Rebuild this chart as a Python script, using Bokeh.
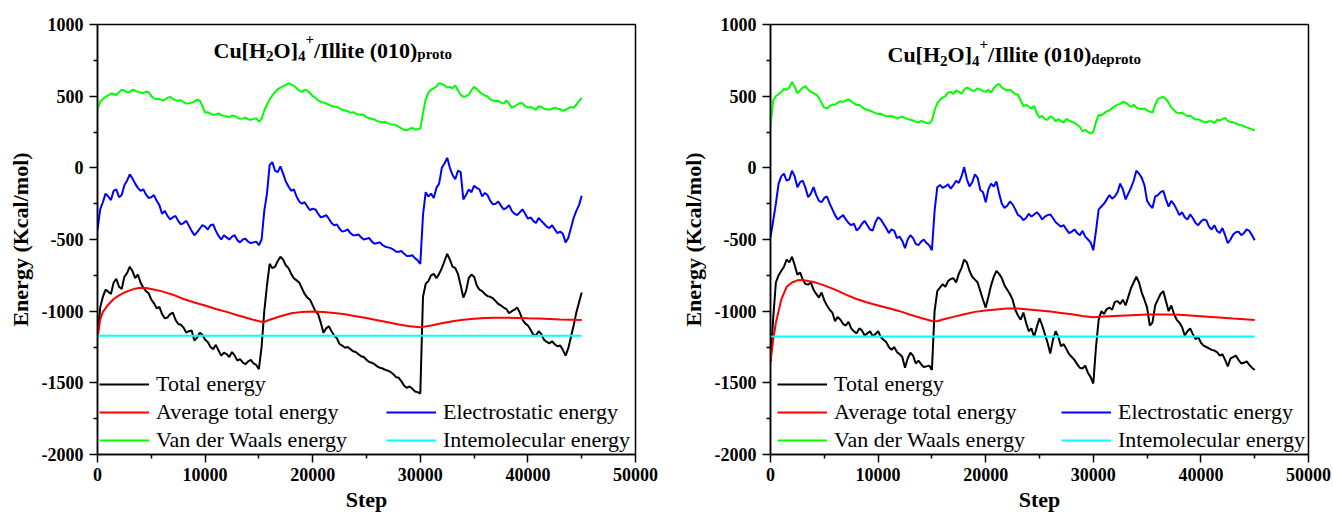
from bokeh.plotting import figure
from bokeh.models import Range1d, FixedTicker, Legend, LegendItem, Label
from bokeh.layouts import row
from bokeh.embed import file_html
from bokeh.resources import INLINE

# ---- data -------------------------------------------------------------
# main samples every 500 steps, plus the readings half-way between them
steps = list(range(0, 45001, 500))
mid_steps = list(range(250, 45000, 500))

proto_total = [
    -1187, -900, -864, -800, -830, -760, -690, -770, -800, -860,
    -920, -980, -1020, -1045, -1010, -1090, -1115, -1140, -1205, -1150,
    -1200, -1250, -1235, -1310, -1300, -1285, -1345, -1358, -1350, -1365,
    -1405, -1000, -670, -690, -620, -680, -740, -785, -840, -905,
    -960, -1020, -1150, -1105, -1170, -1230, -1255, -1265, -1285, -1315,
    -1340, -1360, -1385, -1400, -1415, -1440, -1465, -1520, -1525, -1560,
    -1575, -810, -750, -770, -700, -600, -690, -740, -905, -770,
    -760, -850, -880, -900, -930, -960, -985, -1000, -975, -1060,
    -1100, -1165, -1140, -1200, -1225, -1232, -1240, -1310, -1180, -1010,
    -870,
]
proto_total_mid = [
    -975, -850, -880, -775, -845, -735, -720, -745, -835, -875,
    -945, -970, -1050, -1020, -1060, -1095, -1150, -1135, -1185, -1165,
    -1215, -1265, -1275, -1290, -1320, -1310, -1335, -1370, -1340, -1375,
    -1250, -820, -700, -650, -640, -700, -770, -800, -880, -920,
    -1000, -1080, -1120, -1140, -1190, -1240, -1250, -1280, -1300, -1320,
    -1355, -1370, -1395, -1410, -1425, -1460, -1490, -1535, -1540, -1565,
    -900, -790, -740, -740, -650, -640, -700, -820, -860, -745,
    -820, -860, -895, -910, -950, -975, -1015, -990, -1010, -1085,
    -1130, -1170, -1160, -1215, -1210, -1245, -1270, -1260, -1100, -940,
]
proto_elec = [
    -433, -240, -200, -160, -205, -120, -45, -110, -160, -185,
    -205, -230, -320, -335, -345, -370, -385, -405, -470, -425,
    -410, -400, -440, -500, -485, -480, -505, -500, -515, -520,
    -540, -300, 20, -20, 10, -95, -160, -200, -250, -270,
    -285, -320, -340, -355, -400, -425, -440, -455, -470, -485,
    -495, -515, -525, -540, -555, -570, -585, -600, -615, -630,
    -670, -170, -180, -140, 0, 70, -50, -20, -220, -150,
    -125, -150, -175, -230, -250, -265, -280, -300, -330, -290,
    -355, -370, -350, -390, -420, -430, -445, -520, -420, -300,
    -195,
]
proto_elec_mid = [
    -290, -180, -225, -150, -190, -90, -75, -140, -150, -210,
    -190, -260, -300, -360, -335, -395, -370, -440, -450, -400,
    -430, -395, -475, -470, -500, -470, -520, -495, -525, -515,
    -500, -180, 40, -30, -40, -130, -150, -235, -240, -295,
    -290, -345, -330, -385, -395, -445, -430, -470, -465, -500,
    -490, -530, -520, -550, -560, -585, -580, -615, -610, -645,
    -330, -200, -210, -110, 30, 0, -80, -30, -190, -170,
    -140, -200, -190, -255, -235, -290, -260, -320, -310, -320,
    -345, -385, -370, -410, -400, -455, -460, -490, -350, -260,
]
proto_vdw = [
    407, 480, 505, 515, 528, 540, 530, 538, 525, 532,
    500, 478, 470, 488, 480, 468, 458, 450, 462, 470,
    385, 378, 372, 368, 360, 365, 350, 345, 338, 342,
    322, 400, 478, 528, 560, 578, 582, 555, 530, 538,
    500, 470, 455, 440, 428, 415, 400, 385, 378, 372,
    352, 340, 325, 318, 310, 302, 285, 265, 272, 268,
    275, 480, 545, 568, 585, 560, 555, 540, 495, 510,
    565, 530, 505, 478, 465, 455, 470, 420, 440, 450,
    420, 415, 430, 412, 405, 420, 410, 405, 425, 440,
    488,
]
proto_vdw_mid = [
    462, 495, 518, 508, 545, 525, 545, 530, 520, 528,
    485, 482, 475, 495, 472, 472, 448, 455, 475, 430,
    388, 370, 380, 362, 352, 362, 342, 350, 335, 345,
    340, 440, 505, 548, 570, 590, 572, 540, 545, 522,
    490, 462, 450, 432, 425, 405, 395, 388, 370, 368,
    348, 338, 322, 320, 305, 298, 275, 262, 278, 270,
    380, 525, 555, 590, 575, 565, 575, 510, 500, 540,
    550, 515, 498, 470, 468, 448, 448, 428, 452, 430,
    425, 405, 425, 408, 412, 412, 398, 415, 418, 465,
]
avg_steps = [
    0, 250, 500, 1000, 1500, 2000, 2500, 3000, 3500, 4000, 4500, 5000,
    6000, 7000, 8000, 9000, 10000, 11000, 12000, 13000, 14000, 15000,
    15500, 16000, 17000, 18000, 19000, 20000, 21000, 22000, 23000, 24000,
    25000, 26000, 27000, 28000, 29000, 30000, 31000, 32000, 33000, 34000,
    35000, 36000, 37000, 38000, 39000, 40000, 41000, 42000, 43000, 44000,
    45000,
]
proto_avg = [
    -1187, -1060, -1005, -955, -915, -890, -870, -855, -843, -837, -838, -845,
    -862, -885, -915, -940, -960, -985, -1005, -1028, -1050, -1070,
    -1075, -1060, -1035, -1015, -1005, -1002, -1005, -1012, -1022, -1035,
    -1048, -1063, -1078, -1093, -1105, -1113, -1100, -1085, -1070, -1060,
    -1053, -1048, -1046, -1046, -1047, -1050, -1052, -1055, -1058, -1060,
    -1062,
]
proto_inter = [-1171, -1171]

deproto_total = [
    -1354, -800, -720, -640, -620, -745, -780, -815, -850, -905,
    -925, -990, -1070, -1060, -1100, -1120, -1155, -1135, -1155, -1175,
    -1140, -1200, -1250, -1250, -1300, -1395, -1290, -1365, -1370, -1385,
    -1410, -860, -812, -790, -770, -740, -640, -720, -780, -860,
    -975, -820, -720, -770, -850, -920, -1030, -1010, -1140, -1180,
    -1050, -1160, -1295, -1140, -1245, -1265, -1320, -1370, -1400, -1430,
    -1505, -1060, -1020, -975, -935, -950, -960, -840, -760, -870,
    -975, -1080, -920, -860, -1000, -1020, -1080, -1170, -1120, -1195,
    -1220, -1250, -1270, -1285, -1300, -1385, -1320, -1340, -1360, -1375,
    -1410,
]
deproto_total_mid = [
    -1050, -750, -690, -660, -680, -730, -810, -800, -880, -870,
    -960, -1010, -1040, -1090, -1075, -1140, -1120, -1170, -1140, -1160,
    -1180, -1215, -1270, -1285, -1320, -1330, -1310, -1345, -1390, -1380,
    -1000, -835, -830, -775, -800, -700, -660, -760, -800, -920,
    -900, -760, -740, -820, -880, -990, -1060, -1080, -1120, -1110,
    -1100, -1220, -1200, -1180, -1230, -1300, -1340, -1395, -1380, -1460,
    -1250, -1000, -985, -990, -930, -920, -900, -800, -800, -920,
    -1100, -960, -880, -930, -960, -1060, -1110, -1140, -1160, -1180,
    -1240, -1260, -1275, -1310, -1340, -1330, -1310, -1365, -1350, -1395,
]
deproto_elec = [
    -484, -250, -60, -90, -20, -135, -90, -205, -135, -230,
    -210, -250, -330, -345, -360, -400, -437, -390, -400, -437,
    -345, -390, -455, -440, -480, -560, -470, -530, -515, -525,
    -575, -135, -140, -115, -120, -105, 5, -130, -45, -155,
    -240, -110, -95, -250, -265, -255, -330, -365, -320, -325,
    -330, -340, -325, -380, -410, -430, -445, -455, -440, -500,
    -575, -290, -250, -190, -200, -110, -220, -140, -20, -70,
    -230, -280, -190, -160, -270, -255, -330, -345, -325, -385,
    -375, -365, -430, -440, -420, -525, -465, -445, -455, -440,
    -505,
]
deproto_elec_mid = [
    -370, -110, -40, -80, -60, -100, -140, -180, -190, -240,
    -200, -290, -360, -330, -385, -390, -420, -370, -430, -380,
    -360, -420, -430, -490, -510, -500, -490, -540, -500, -540,
    -300, -120, -130, -145, -90, -60, -80, -100, -70, -170,
    -150, -130, -180, -280, -235, -290, -340, -350, -340, -310,
    -360, -330, -350, -395, -400, -455, -430, -470, -480, -520,
    -440, -270, -220, -215, -170, -150, -180, -90, -40, -120,
    -260, -200, -170, -220, -230, -290, -310, -360, -350, -400,
    -360, -410, -400, -455, -470, -500, -450, -470, -430, -470,
]
deproto_vdw = [
    295, 500, 528, 545, 600, 520, 560, 545, 520, 488,
    420, 430, 440, 465, 470, 465, 438, 425, 405, 390,
    375, 368, 360, 355, 352, 348, 335, 322, 328, 312,
    330, 450, 490, 525, 515, 530, 545, 552, 540, 545,
    530, 525, 575, 560, 540, 530, 510, 430, 428, 432,
    350, 340, 360, 325, 325, 342, 320, 300, 255, 250,
    250, 370, 380, 400, 430, 445, 455, 425, 420, 410,
    400, 385, 480, 495, 455, 402, 380, 372, 365, 335,
    330, 318, 325, 335, 340, 328, 318, 300, 290, 275,
    260,
]
deproto_vdw_mid = [
    470, 515, 550, 560, 565, 540, 570, 530, 512, 450,
    415, 442, 455, 460, 478, 450, 440, 410, 398, 382,
    378, 360, 362, 345, 358, 340, 330, 315, 320, 310,
    400, 475, 500, 530, 540, 518, 560, 538, 555, 535,
    545, 555, 585, 548, 545, 515, 470, 440, 412, 380,
    362, 335, 348, 340, 315, 330, 315, 285, 265, 240,
    320, 365, 395, 415, 440, 460, 440, 440, 412, 415,
    392, 440, 490, 480, 420, 385, 385, 360, 350, 340,
    320, 325, 312, 330, 348, 320, 310, 298, 282, 270,
]
deproto_avg = [
    -1354, -1200, -1080, -920, -830, -800, -785, -782, -790, -797, -808, -820,
    -850, -885, -915, -940, -960, -980, -1000, -1025, -1048, -1068,
    -1070, -1058, -1040, -1022, -1005, -995, -988, -982, -982, -988,
    -995, -1003, -1012, -1022, -1033, -1042, -1038, -1034, -1030, -1026,
    -1024, -1023, -1023, -1025, -1030, -1035, -1040, -1046, -1052, -1057,
    -1062,
]
deproto_inter = [-1176, -1176]
inter_steps = [0, 45000]

x_ticks = [0, 10000, 20000, 30000, 40000, 50000]
x_minor = [5000, 15000, 25000, 35000, 45000]
y_ticks = [-2000, -1500, -1000, -500, 0, 500, 1000]
y_minor = [-1750, -1250, -750, -250, 250, 750]

SERIF = "'Liberation Serif', 'Times New Roman', serif"

# Times-bold advance widths (per 1000 em) for laying out the title runs
BOLD_W = {
    "C": 722, "u": 556, "[": 333, "H": 778, "O": 778, "]": 333, "2": 500,
    "4": 500, "+": 570, "/": 278, "I": 389, "l": 278, "i": 278, "t": 333,
    "e": 444, " ": 250, "(": 333, "0": 500, "1": 500, ")": 333, "p": 556,
    "r": 444, "o": 500, "d": 556,
}


def merge(main, mid):
    """Put the half-way readings between the main samples, in step order."""
    out = []
    for i, v in enumerate(main):
        out.append(v)
        if i < len(mid):
            out.append(mid[i])
    return out


fine_steps = merge(steps, mid_steps)


def run_width(text, size):
    return sum(BOLD_W[c] for c in text) * size / 1000.0


def add_title(p, x0, y0, state):
    big, small = 22, 15
    runs = [("Cu[H", 0, big), ("2", -6, small), ("O]", 0, big), ("4", -6, small),
            ("+", 11, small), ("/Illite (010)", 0, big), (state, -4, small)]
    x = x0
    for text, dy, size in runs:
        p.add_layout(Label(x=x, y=y0 + dy, x_units="screen", y_units="screen",
                           text=text, text_font=SERIF, text_font_style="bold",
                           text_font_size=f"{size}px", text_align="left",
                           text_baseline="alphabetic", text_color="black"))
        x += run_width(text, size)


def make_panel(state, total, avg, elec, vdw, inter, width, left, right, top,
               title_xy, leg1_x, leg2_x):
    p = figure(width=width, height=516, output_backend="svg", toolbar_location=None,
               x_range=Range1d(0, 50000), y_range=Range1d(-2000, 1000),
               min_border_left=left, min_border_right=right,
               min_border_top=top, min_border_bottom=62,
               background_fill_color="white", border_fill_color="white")
    p.grid.visible = False
    p.outline_line_color = "black"
    p.outline_line_width = 1.5

    p.xaxis.ticker = FixedTicker(ticks=x_ticks, minor_ticks=x_minor)
    p.yaxis.ticker = FixedTicker(ticks=y_ticks, minor_ticks=y_minor)
    p.xaxis.major_label_overrides = {t: str(t) for t in x_ticks}
    p.yaxis.major_label_overrides = {t: str(t) for t in y_ticks}
    p.xaxis.axis_label = "Step"
    p.yaxis.axis_label = "Energy (Kcal/mol)"
    for ax in (p.xaxis, p.yaxis):
        ax.axis_line_width = 1.5
        ax.axis_line_color = "black"
        ax.major_tick_line_width = 1.5
        ax.minor_tick_line_width = 1.5
        ax.major_tick_in = 0
        ax.major_tick_out = 8
        ax.minor_tick_in = 0
        ax.minor_tick_out = 4
        ax.major_label_text_font = SERIF
        ax.major_label_text_font_style = "bold"
        ax.major_label_text_font_size = "18px"
        ax.major_label_text_color = "black"
        ax.axis_label_text_font = SERIF
        ax.axis_label_text_font_style = "bold"
        ax.axis_label_text_font_size = "22px"
        ax.axis_label_text_color = "black"
    p.xaxis.major_label_standoff = 5
    p.xaxis.axis_label_standoff = 3
    p.yaxis.major_label_standoff = 6
    p.yaxis.axis_label_standoff = 6

    r_tot = p.line(fine_steps, total, line_color="black", line_width=2)
    r_avg = p.line(avg_steps, avg, line_color="#ff0000", line_width=2)
    r_ele = p.line(fine_steps, elec, line_color="#0000ff", line_width=2)
    r_vdw = p.line(fine_steps, vdw, line_color="#00ff00", line_width=2)
    r_int = p.line(inter_steps, inter, line_color="#00ffff", line_width=2)

    common = dict(orientation="vertical", glyph_width=50, glyph_height=28,
                  label_height=28, label_width=10, spacing=0, padding=0,
                  margin=0, label_standoff=7, border_line_alpha=0,
                  background_fill_alpha=0, label_text_font=SERIF,
                  label_text_font_size="22px", label_text_color="black")
    leg1 = Legend(items=[LegendItem(label="Total energy", renderers=[r_tot]),
                         LegendItem(label="Average total energy", renderers=[r_avg]),
                         LegendItem(label="Van der Waals energy", renderers=[r_vdw])],
                  location=(leg1_x, 0), **common)
    leg2 = Legend(items=[LegendItem(label="Electrostatic energy", renderers=[r_ele]),
                         LegendItem(label="Intemolecular energy", renderers=[r_int])],
                  location=(leg2_x, 0), **common)
    p.add_layout(leg1)
    p.add_layout(leg2)

    add_title(p, title_xy[0], title_xy[1], state)
    return p


p1 = make_panel("proto", merge(proto_total, proto_total_mid), proto_avg,
                merge(proto_elec, proto_elec_mid), merge(proto_vdw, proto_vdw_mid),
                proto_inter, width=670, left=97, right=35, top=21,
                title_xy=(116, 404.5), leg1_x=2, leg2_x=289)
p2 = make_panel("deproto", merge(deproto_total, deproto_total_mid), deproto_avg,
                merge(deproto_elec, deproto_elec_mid), merge(deproto_vdw, deproto_vdw_mid),
                deproto_inter, width=663, left=100, right=25, top=24,
                title_xy=(117, 400), leg1_x=7, leg2_x=291)

layout = row(p1, p2)
open("out.html", "w").write(file_html(layout, INLINE))
